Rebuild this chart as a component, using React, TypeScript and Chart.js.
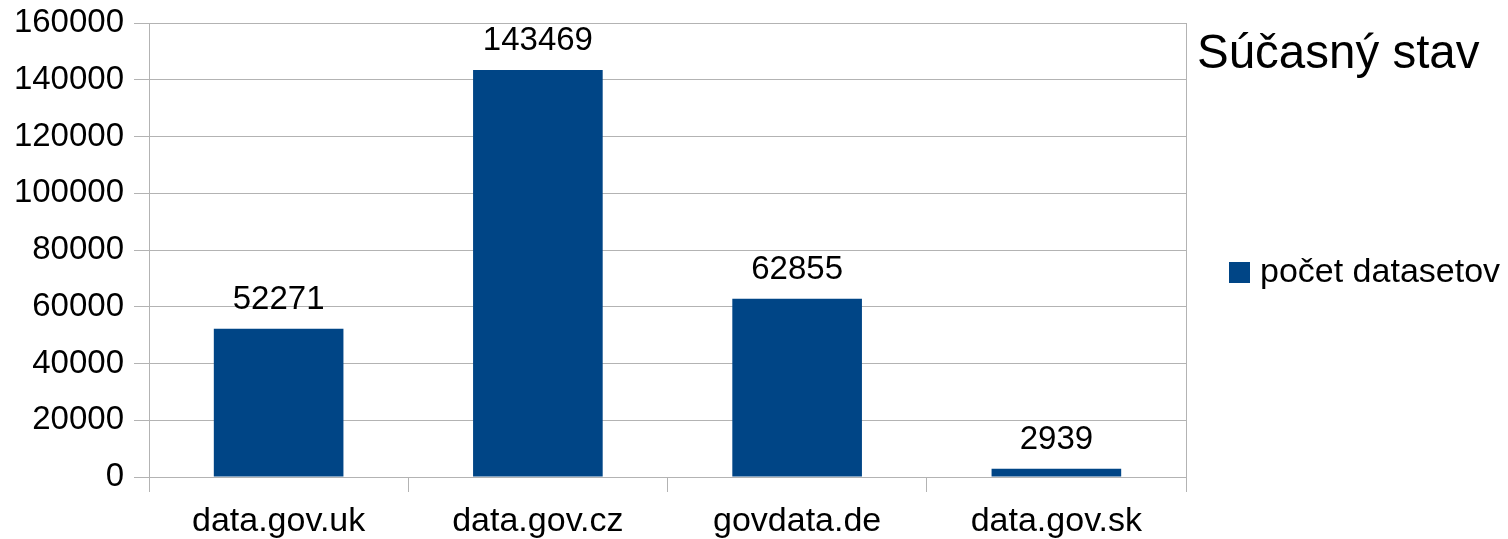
import React, { useEffect, useRef } from "react";
import { Chart, registerables } from "chart.js";

Chart.register(...registerables);

const categories = ["data.gov.uk", "data.gov.cz", "govdata.de", "data.gov.sk"];
const seriesLabel = "počet datasetov";
const seriesValues = [52271, 143469, 62855, 2939];
const chartTitle = "Súčasný stav";
const yMin = 0;
const yMax = 160000;
const yStep = 20000;

const FONT = "'Liberation Sans', Arial, sans-serif";
const BAR_COLOR = "#004586";
const GRID_COLOR = "#b3b3b3";

const extrasPlugin = {
  id: "extras",
  afterDatasetsDraw(chart: any) {
    const ctx = chart.ctx;
    const area = chart.chartArea;
    ctx.save();
    // right border line
    ctx.strokeStyle = GRID_COLOR;
    ctx.lineWidth = 1;
    ctx.beginPath();
    ctx.moveTo(Math.round(area.right) + 0.5, area.top);
    ctx.lineTo(Math.round(area.right) + 0.5, area.bottom + 15);
    ctx.stroke();

    // value labels
    const meta = chart.getDatasetMeta(0);
    ctx.fillStyle = "#000";
    ctx.font = `33px ${FONT}`;
    ctx.textAlign = "center";
    ctx.textBaseline = "alphabetic";
    meta.data.forEach((bar: any, i: number) => {
      const v = chart.data.datasets[0].data[i];
      ctx.fillText(String(v), bar.x, bar.y - 20);
    });

    // title
    ctx.font = `47.5px ${FONT}`;
    ctx.textAlign = "left";
    ctx.fillText(chartTitle, 1197, 68);

    // legend
    const ds = chart.data.datasets[0];
    ctx.fillStyle = ds.backgroundColor;
    ctx.fillRect(1229, 262, 21, 21);
    ctx.fillStyle = "#000";
    ctx.font = `34px ${FONT}`;
    ctx.textBaseline = "middle";
    ctx.fillText(ds.label, 1260, 273);
    ctx.restore();
  },
};

export default function App() {
  const ref = useRef<HTMLCanvasElement | null>(null);
  useEffect(() => {
    if (!ref.current) return;
    const chart = new Chart(ref.current, {
      type: "bar",
      data: {
        labels: categories,
        datasets: [
          {
            label: seriesLabel,
            data: seriesValues,
            backgroundColor: BAR_COLOR,
            barPercentage: 0.5,
            categoryPercentage: 1,
          },
        ],
      },
      options: {
        responsive: false,
        animation: false,
        layout: { padding: { left: 0, right: 322, top: 23, bottom: 0 } },
        plugins: {
          legend: { display: false },
          title: { display: false },
          tooltip: { enabled: false },
        },
        scales: {
          x: {
            grid: {
              offset: true,
              drawOnChartArea: false,
              color: GRID_COLOR,
              tickLength: 15,
            },
            border: { color: GRID_COLOR },
            ticks: {
              color: "#000",
              font: { family: FONT, size: 34 },
              padding: 9,
              maxRotation: 0,
            },
            afterFit: (s: any) => {
              s.height = 62;
              s.paddingLeft = 0;
              s.paddingRight = 0;
            },
          },
          y: {
            min: yMin,
            max: yMax,
            grid: { color: GRID_COLOR, tickLength: 15 },
            border: { color: GRID_COLOR },
            ticks: {
              stepSize: yStep,
              color: "#000",
              font: { family: FONT, size: 33 },
              padding: 10,
              callback: (v: any) => String(v),
            },
            afterFit: (s: any) => {
              s.width = 149;
              s.paddingTop = 0;
              s.paddingBottom = 0;
            },
          },
        },
      },
      plugins: [extrasPlugin],
    });
    return () => chart.destroy();
  }, []);
  return (
    <div style={{ position: "fixed", left: 0, top: 0, width: 1508, height: 539, background: "#fff" }}>
      <canvas ref={ref} width={1508} height={539} style={{ display: "block" }} />
    </div>
  );
}
